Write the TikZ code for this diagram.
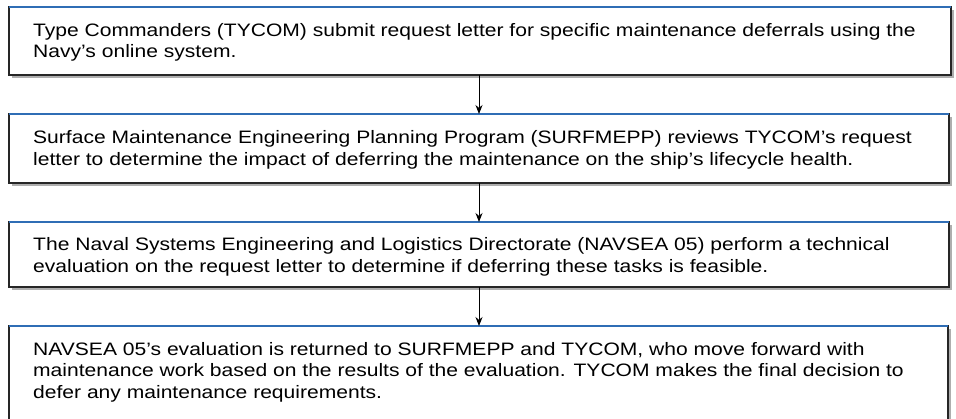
\documentclass[tikz,border=0pt]{standalone}
\usepackage{fontspec}
\setmainfont[FakeStretch=1.17]{Liberation Sans}
\usetikzlibrary{shadows,arrows.meta}
\definecolor{topblue}{HTML}{2F6DB5}
\tikzset{
  x=1pt, y=-1pt,
  stepbox/.style={draw=black!85, line width=1.2pt, fill=white,
    drop shadow={shadow xshift=2.5pt, shadow yshift=-2.5pt, opacity=0.45, fill=black!70}},
  topline/.style={draw=topblue, line width=1.6pt},
  txt/.style={anchor=base west, align=left, inner sep=0pt,
    font=\fontsize{18}{21.5}\selectfont},
  flow/.style={draw=black, line width=0.9pt, -{Stealth[length=9pt,width=7pt]}}
}
\begin{document}
\begin{tikzpicture}
\useasboundingbox (0,0) rectangle (956,418);
\clip (0,0) rectangle (956,418);
\fill[white] (0,0) rectangle (956,418);
% boxes
\path[stepbox] (9,7) rectangle (951,75);
\draw[topline] (9,7) -- (951,7);
\coordinate (b1) at (479,75);
\path[stepbox] (9,114) rectangle (949,183);
\draw[topline] (9,114) -- (949,114);
\coordinate (t2) at (479,114);
\coordinate (b2) at (479,183);
\path[stepbox] (9,222) rectangle (949,287);
\draw[topline] (9,222) -- (949,222);
\coordinate (t3) at (479,222);
\coordinate (b3) at (479,287);
\path[stepbox] (9,326) rectangle (948,440);
\draw[topline] (9,326) -- (948,326);
\coordinate (t4) at (479,326);
% texts (anchor = baseline of last line)
\node[txt] (x1) at (33,57.5) {Type Commanders (TYCOM) submit request letter for specific maintenance deferrals using the\\Navy’s online system.};
\node[txt] (x2) at (33,165) {Surface Maintenance Engineering Planning Program (SURFMEPP) reviews TYCOM’s request\\letter to determine the impact of deferring the maintenance on the ship’s lifecycle health.};
\node[txt] (x3) at (33,272) {The Naval Systems Engineering and Logistics Directorate (NAVSEA 05) perform a technical\\evaluation on the request letter to determine if deferring these tasks is feasible.};
\node[txt] (x4) at (33,398) {NAVSEA 05’s evaluation is returned to SURFMEPP and TYCOM, who move forward with\\maintenance work based on the results of the evaluation. TYCOM makes the final decision to\\defer any maintenance requirements.};
% arrows
\draw[flow] (b1) -- (t2);
\draw[flow] (b2) -- (t3);
\draw[flow] (b3) -- (t4);
\end{tikzpicture}
\end{document}
